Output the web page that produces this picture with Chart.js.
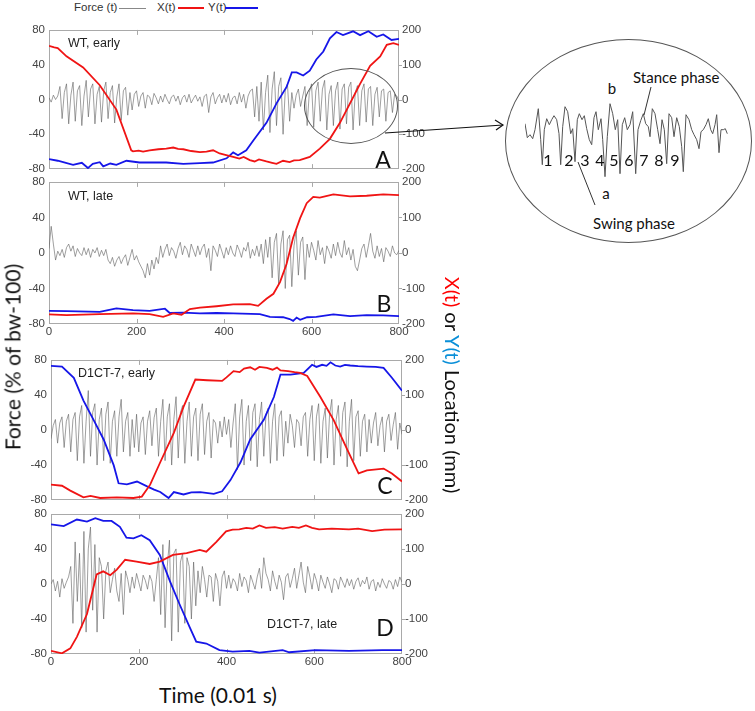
<!DOCTYPE html>
<html lang="en">
<head>
<meta charset="UTF-8"/>
<title>Force and location traces</title>
<script src="https://cdn.jsdelivr.net/npm/chart.js"></script>
<style>
  body { margin:0; background:#fff; width:755px; height:711px; position:relative; overflow:hidden;
         font-family:"Liberation Sans", Arial, sans-serif; color:#222; }
  canvas.panel { position:absolute; left:0; }
  #inset { position:absolute; left:525px; top:100px; }
  .t { position:absolute; white-space:nowrap; line-height:1; transform:translate(0,-50%); }
  .c { position:absolute; white-space:nowrap; line-height:1; transform:translate(-50%,-50%); }
  .cal { font-family:Lato, "Open Sans", sans-serif; color:#111; }
  .leg { font-size:11.5px; color:#333; }
  .legline { position:absolute; height:0; }
  .note { font-size:12.5px; color:#222; }
  .letter { font-size:23px; }
  .ellipse { position:absolute; border:1px solid #555; border-radius:50%; box-sizing:border-box; }
  svg { position:absolute; left:0; top:0; pointer-events:none; }
</style>
</head>
<body>

<script>
  // ---- data ----
  const TIME_TICKS = [0, 200, 400, 600, 800];
  const FORCE_TICKS = [-80, -40, 0, 40, 80];
  const LOC_TICKS = [-200, -100, 0, 100, 200];
  const FORCE_STEP = 5; // force samples every 5 time units (0..800)

  // panel A: WT, early
  const A_FORCE = [2, -3, 5, 0, 4,
    15, -22, 8, 18, -28, 5, 20, -25, 10, 16, -30, 4, 22, -20, 12, 18, -28, 6, 15, -26,
    10, 20, -22, 8, 16, -27, 3, 18, -24, 10, 14, -18,
    8, -12, 6, 10, -8, 4, 8, -10, 5, 3, -6, 7, 2, -5,
    4, -3, 6, 0, -5, 3, 5, -2, 4, -6, 2, 5, -3, 6, -4, 1, 5, -2, 3, -8,
    4, 6, -15, 3, 8, -5, 2, 6, -4, 5, -3, 7, -6, 2, 4, -5, 8, -3, 6, -10, 4, 10,
    12, -20, 15, -25, 20, -35, 8, 28, -38, 12, 32, -30, 15, 25, -40, 10, 18, -25,
    8, -10, 5, 12, -8, 4,
    15, -30, 8, 18, -32, 10, 20, -25, 12, 22, -35, 6, 16, -30, 10, 20, -34, 12, 18, -28,
    14, 20, -35, 8, 16, -30, 10, 18, -26, 12, 15, -30, 6, 14, -20, 10, 12, -25, 8, 10,
    -15, 6, 4, -2];
  const A_X = [[0,154],[12,150],[20,148],[40,124],[78,92],[116,41],[154,-29],[188,-146],[192,-149],
    [205,-147],[215,-150],[230,-146],[250,-143],[268,-141],[284,-138],[295,-142],[307,-143],[325,-148],
    [345,-151],[360,-150],[375,-146],[390,-155],[405,-160],[421,-165],[435,-170],[445,-165],[459,-174],
    [470,-178],[480,-172],[497,-178],[510,-182],[520,-185],[535,-176],[550,-180],[560,-175],[573,-174],
    [596,-165],[619,-141],[642,-113],[665,-67],[688,-11],[711,45],[734,97],[757,124],[772,157],[787,162],[800,157]];
  const A_Y = [[0,-171],[20,-176],[55,-188],[75,-182],[89,-197],[100,-185],[116,-180],[124,-192],[140,-184],
    [154,-188],[177,-176],[207,-181],[268,-181],[307,-185],[345,-183],[375,-181],[406,-169],[421,-152],
    [432,-160],[451,-146],[467,-118],[497,-67],[520,-11],[543,36],[555,78],[566,78],[581,69],[596,83],
    [611,115],[627,138],[642,176],[657,194],[672,185],[695,196],[711,185],[730,196],[749,180],[764,187],
    [783,171],[800,174]];

  // panel B: WT, late
  const B_FORCE = [5, 30, 10, -8, 2, -3, 4, -5, 6, 10, 2,
    8, -4, 5, 0, -3, 6, -2, 5, -5, 4, 0, 6, -4, 3,
    -3, 4, -8, -12, -5, -15, -8, -4, -12, -6, -2, -14, -5, 4, -8, -3,
    -10, -15, -20, -28, -12, -25, -8, -18, -5, -12,
    8, -5, 4, 10, -3, 6, 2, -6, 5, 12, -2, 8, 4, -5, 10, 3, -4, 8, -2, 6,
    10, -5, 5, -20, 8, 3, -4, 10, 2, -6, 6, -2, 8, 0, -4, 9, 3, -5, 6, 2,
    12, -6, 4, -3, 8, -4,
    10, -12, 15, -5, 18, -28, 12, 22, -35, 10, 25, -40, 15, 20, -38, 8, 25, -25, 12, 18, -30, 10,
    -5, 12, 3, -8, 14, -2, 6, -12, 8, 2, -6, 10, -3, 12, 0, -5, 14, -2, 6, -8, 4, -15,
    -20, -8, 5, 10, -5, 8, 22, 2, -6, 8, -4, 5, -10, 6, 2, -4, 8, 0, -2, 3];
  const B_X = [[0,-173],[40,-175],[116,-172],[192,-170],[230,-172],[261,-180],[284,-170],[303,-174],
    [322,-158],[345,-154],[383,-150],[421,-145],[459,-144],[478,-149],[497,-129],[513,-115],[528,-82],
    [543,-31],[558,43],[574,98],[589,140],[604,158],[619,156],[650,165],[688,159],[726,161],[764,165],[800,163]];
  const B_Y = [[0,-163],[40,-164],[116,-166],[154,-156],[192,-161],[230,-163],[265,-157],[276,-169],
    [307,-168],[345,-170],[383,-169],[421,-170],[482,-172],[505,-180],[535,-181],[550,-186],[558,-191],
    [566,-182],[574,-188],[590,-181],[611,-180],[650,-173],[688,-178],[726,-175],[764,-176],[800,-178]];

  // panel C: D1CT-7, early
  const C_FORCE = [-10, 5, 12, -15, 8, 15, -20, 10, 18, -25, 12, 20,
    -35, 15, 28, -38, 10, 45, -30, 20, 30, -40, 12, 25, -35, 18, 32, -38, 10, 22, -30, 15, 35, -25, 10, 20, -30,
    12, -20, 18, -25, 8, 15, -28, 10, 22, -18, 14, 25, -30, 10,
    35, -35, 15, 30, -40, 12, 38, -32, 20, 28, -38, 10, 32, -30, 15, 25, -35, 18, 30, -28, 10, 20, -32, 12, 8, -15,
    10, -8, 15, -5, 12, -20, 8, 30,
    -45, 15, 35, -40, 10, 28, -35, 20, 30, -42, 12, 32, -30, 18, 25, -38, 10, 30, -35, 15, 22, -30,
    10, -15, 18, 5, -20, 12, 8, -18, 15, 20,
    -30, 12, 28, -35, 15, 30, -38, 10, 25, -32, 18, 35, -40, 12, 28, -30, 20, 32, -42, 10, 35, -35, 15, 22, -30, 10, 18, -25,
    12, -15, 8, 20, -18, 5, 15, -25, 10, 18, -12, 6, 20, -22, 8, -5];
  const C_X = [[0,-156],[25,-159],[44,-173],[74,-192],[90,-188],[112,-194],[150,-192],[188,-194],[207,-190],
    [226,-156],[249,-92],[280,-8],[302,66],[329,144],[356,142],[390,140],[400,150],[416,168],[430,165],
    [440,175],[454,179],[465,172],[475,180],[492,177],[505,172],[515,178],[523,170],[540,168],[555,165],
    [568,163],[584,154],[614,94],[644,29],[675,-55],[701,-124],[720,-115],[758,-110],[777,-124],[800,-147]];
  const C_Y = [[0,183],[25,181],[52,149],[74,84],[97,29],[120,-27],[143,-101],[154,-152],[173,-155],[196,-147],
    [219,-161],[235,-170],[249,-177],[268,-194],[280,-177],[302,-184],[320,-178],[340,-177],[371,-182],[390,-175],
    [409,-143],[432,-92],[454,-27],[485,29],[508,94],[523,158],[546,158],[576,163],[595,186],[605,180],
    [618,186],[628,183],[637,193],[648,184],[659,181],[670,186],[682,184],[700,182],[720,181],[740,180],
    [758,177],[777,149],[800,112]];

  // panel D: D1CT-7, late
  const D_FORCE = [0, 5, -8, 3, -15, 6, -5, 2, 8,
    20, -45, 48, -20, 35, -50, 60, -55, 40, 65, -30, 45, -55, 30, 20, -40,
    15, 25, -10, 5, 18, -8, -20, 12, -35, 15, 5, -10,
    8, -5, 12, 2, -8, 10, 4, -6, 10, 3, -20, 5,
    30, -35, 45, -50, 20, 50, -65, 35, 40, -55, 25, 35, -45, 30, 20, -40, 25, -25,
    15, -10, 20, 5, -15, 10, 8, -20, 12, 3, -25, 8, 15, -5,
    10, -5, 6, 2, -8, 12, -3, 8, 4, -10,
    10, 2, -6, 8, 18, -5, 30, 12, 5, -8,
    15, 3, -6, 10, 2, -18, 8, 12, -4, 6,
    18, -5, 10, 25, 2, -10, 20, 8, -6, 12,
    4, -8, 10, 2, -5, 8, 0, -10, 6, 4,
    -6, 8, 2, -4, 6, -2, 5, -6, 3, 7,
    -3, 4, 0, 8, -6, 3, 5, -8, 2, -4,
    6, 0, -5, 4, 2, -6, 5, -3, 8, 2];
  const D_X = [[0,-191],[25,-198],[44,-184],[59,-151],[82,-86],[104,27],[119,36],[135,25],[150,41],[169,69],
    [195,64],[225,57],[248,64],[278,83],[309,88],[339,97],[354,92],[377,120],[399,150],[414,155],[429,156],
    [445,160],[460,158],[475,167],[490,160],[510,162],[528,158],[550,163],[565,160],[581,167],[595,160],
    [611,156],[640,158],[679,156],[700,158],[732,151],[760,155],[800,156]];
  const D_Y = [[0,170],[29,165],[59,184],[82,178],[101,188],[119,180],[138,180],[157,163],[172,132],[188,130],
    [206,139],[225,125],[248,83],[271,8],[293,-58],[316,-123],[331,-165],[354,-170],[384,-189],[414,-193],
    [452,-191],[475,-196],[528,-189],[543,-195],[603,-189],[679,-191],[755,-189],[800,-189]];

  // magnified stretch of panel A force (inset)
  const INSET_T = [0, 2.3, 5, 7.7, 10, 13.3, 15.7, 17.3, 19.3, 21.7, 24.3, 26.7, 29, 31.7, 34, 35.7, 37.7, 40,
    42.7, 45.7, 47.7, 50, 52.3, 54.3, 57, 59.3, 61.7, 64.3, 66.7, 69, 71, 73.3, 76, 77.7, 80, 82.3, 85, 87.7,
    90.3, 92.7, 95, 97.3, 99.7, 102.3, 105, 107.7, 110.7, 113, 115.7, 118.3, 120.7, 123.3, 125, 127.3, 130,
    132.7, 135, 137, 139.3, 141.7, 144, 146.7, 149, 151.7, 154.3, 156.7, 158.3, 161, 164, 166.7, 169, 171.7,
    174, 176, 178.3, 181, 183.3, 185.7, 187.7, 190, 191.7, 194, 196, 198.3, 200.3, 202.3];
  const INSET_F = [3, -11, -8, -12, -3, 18, -13, -38, -3, 8, 2, 7, 11, 7, -7, -38, 0, 20,
    15, -7, -2, -35, 7, 13, 7, 11, -2, -13, -18, 9, 15, -3, 8, -13, -50, -10, 23, 13,
    -3, 7, -47, 2, 9, -3, 2, 15, -47, -3, 6, 13, 3, 0, -10, 18, 13,
    -3, -17, 7, -3, -37, 13, 9, -10, 9, 0, -20, -45, 12, 7, -3, -8, -13,
    -22, -5, -3, 2, 8, -3, -7, 2, 12, -26, -3, -3, -2, -7];

  const RED = '#f01414';
  const BLUE = '#1616e8';
  const GRAY = 'rgba(95,95,95,0.8)';
  const FRAME = '#a9a9a9';
  const TICK_FONT = { family: '"Liberation Sans Narrow", "Liberation Sans", Arial, sans-serif', size: 11.5 };
</script>

<!-- legend -->
<div class="t leg" style="left:74px;top:8px">Force (t)</div>
<div class="legline" style="left:119px;top:8px;width:27px;border-top:1px solid #888"></div>
<div class="t leg" style="left:157px;top:8px">X(t)</div>
<div class="legline" style="left:178px;top:7px;width:26px;border-top:2px solid #f01414"></div>
<div class="t leg" style="left:208px;top:8px">Y(t)</div>
<div class="legline" style="left:225px;top:7px;width:33px;border-top:2.5px solid #1616e8"></div>

<div id="charts"></div>

<!-- panel notes -->
<div class="t note" style="left:68px;top:43px">WT, early</div>
<div class="t note" style="left:68px;top:196px">WT, late</div>
<div class="t note" style="left:78px;top:373px">D1CT-7, early</div>
<div class="t note" style="left:267px;top:624px">D1CT-7, late</div>
<div class="c cal letter" style="left:383px;top:159px">A</div>
<div class="c cal letter" style="left:384px;top:303px">B</div>
<div class="c cal letter" style="left:385px;top:485px">C</div>
<div class="c cal letter" style="left:385px;top:627px">D</div>

<!-- axis titles -->
<div class="c cal" style="left:12px;top:357px;font-size:21px;transform:translate(-50%,-50%) rotate(-90deg)">Force (% of bw-100)</div>
<div class="c cal" style="left:453px;top:385px;font-size:20px;transform:translate(-50%,-50%) rotate(90deg)"><span style="color:#ff0000">X(t)</span> or <span style="color:#0a8fd8">Y(t)</span> Location (mm)</div>
<div class="c cal" style="left:218px;top:694px;font-size:21px">Time (0.01 s)</div>

<!-- magnified inset -->
<div class="ellipse" style="left:304px;top:68px;width:94px;height:76px"></div>
<div class="ellipse" style="left:505px;top:39px;width:247px;height:204px"></div>
<canvas id="inset" width="205" height="80"></canvas>
<div class="t cal" style="left:633px;top:77px;font-size:15px">Stance phase</div>
<div class="c cal" style="left:612px;top:88px;font-size:15px">b</div>
<div class="c cal" style="left:606px;top:193px;font-size:15px">a</div>
<div class="t cal" style="left:593px;top:223px;font-size:15px">Swing phase</div>
<div class="c cal" style="left:548px;top:160px;font-size:16px">1</div>
<div class="c cal" style="left:569px;top:160px;font-size:16px">2</div>
<div class="c cal" style="left:585px;top:160px;font-size:16px">3</div>
<div class="c cal" style="left:600px;top:160px;font-size:16px">4</div>
<div class="c cal" style="left:614px;top:160px;font-size:16px">5</div>
<div class="c cal" style="left:629px;top:160px;font-size:16px">6</div>
<div class="c cal" style="left:644px;top:160px;font-size:16px">7</div>
<div class="c cal" style="left:659px;top:160px;font-size:16px">8</div>
<div class="c cal" style="left:675px;top:160px;font-size:16px">9</div>

<svg width="755" height="711">
  <line x1="385" y1="133" x2="503" y2="125" stroke="#111" stroke-width="1.2"/>
  <polyline points="495,120 503,125 496,130" fill="none" stroke="#111" stroke-width="1.2"/>
  <line x1="651" y1="87" x2="644" y2="115" stroke="#333" stroke-width="1"/>
  <line x1="595" y1="205" x2="578" y2="162" stroke="#333" stroke-width="1"/>
</svg>

<script>
  const frame = {
    id: 'frame',
    beforeDatasetsDraw(chart) {
      const { ctx, chartArea: a, scales } = chart;
      ctx.save();
      ctx.strokeStyle = FRAME;
      ctx.lineWidth = 1;
      ctx.strokeRect(Math.round(a.left) + 0.5, Math.round(a.top) + 0.5, Math.round(a.width) - 1, Math.round(a.height) - 1);
      ctx.beginPath();
      TIME_TICKS.slice(1, -1).forEach(v => {
        const px = Math.round(scales.x.getPixelForValue(v)) + 0.5;
        ctx.moveTo(px, a.top); ctx.lineTo(px, a.top + 5);
        ctx.moveTo(px, a.bottom); ctx.lineTo(px, a.bottom - 5);
      });
      LOC_TICKS.slice(1, -1).forEach(v => {
        const py = Math.round(scales.y2.getPixelForValue(v)) + 0.5;
        ctx.moveTo(a.right, py); ctx.lineTo(a.right + 3, py);
      });
      ctx.stroke();
      ctx.restore();
    }
  };

  const W = 440;
  const PANELS = [
    { force: A_FORCE, x: A_X, y: A_Y, left: 49, right: 399, top: 28, bottom: 171, showX: false },
    { force: B_FORCE, x: B_X, y: B_Y, left: 49, right: 399, top: 180, bottom: 324, showX: true },
    { force: C_FORCE, x: C_X, y: C_Y, left: 51, right: 402, top: 358, bottom: 502, showX: false },
    { force: D_FORCE, x: D_X, y: D_Y, left: 51, right: 402, top: 512, bottom: 654, showX: true }
  ];

  const tickCfg = { color: '#444', font: TICK_FONT };

  PANELS.forEach(p => {
    const padTop = 9, padBottom = p.showX ? 20 : 9;
    const cv = document.createElement('canvas');
    cv.className = 'panel';
    cv.width = W;
    cv.height = p.bottom - p.top + padTop + padBottom;
    cv.style.top = (p.top - padTop) + 'px';
    document.getElementById('charts').appendChild(cv);

    new Chart(cv, {
      type: 'line',
      data: {
        datasets: [
          { data: p.x.map(([t, v]) => ({ x: t, y: v })), yAxisID: 'y2', borderColor: RED, borderWidth: 1.8 },
          { data: p.y.map(([t, v]) => ({ x: t, y: v })), yAxisID: 'y2', borderColor: BLUE, borderWidth: 1.8 },
          { data: p.force.map((v, i) => ({ x: i * FORCE_STEP, y: v })), yAxisID: 'y', borderColor: GRAY, borderWidth: 0.75 }
        ]
      },
      options: {
        responsive: false,
        animation: false,
        devicePixelRatio: 1,
        elements: { point: { radius: 0 }, line: { tension: 0 } },
        plugins: { legend: { display: false }, tooltip: { enabled: false } },
        layout: { padding: { top: padTop, left: 0, right: 0, bottom: 0 } },
        scales: {
          x: {
            type: 'linear', min: TIME_TICKS[0], max: TIME_TICKS[TIME_TICKS.length - 1],
            afterBuildTicks: s => { s.ticks = TIME_TICKS.map(v => ({ value: v })); },
            ticks: { ...tickCfg, display: p.showX, padding: 1, maxRotation: 0, autoSkip: false },
            grid: { display: false, drawTicks: false, tickLength: 0 },
            border: { display: false },
            afterFit: s => { s.height = padBottom; }
          },
          y: {
            position: 'left', min: FORCE_TICKS[0], max: FORCE_TICKS[FORCE_TICKS.length - 1],
            afterBuildTicks: s => { s.ticks = FORCE_TICKS.map(v => ({ value: v })); },
            ticks: { ...tickCfg, padding: 4 },
            grid: { display: false, drawTicks: false, tickLength: 0 },
            border: { display: false },
            afterFit: s => { s.width = p.left; }
          },
          y2: {
            position: 'right', min: LOC_TICKS[0], max: LOC_TICKS[LOC_TICKS.length - 1],
            afterBuildTicks: s => { s.ticks = LOC_TICKS.map(v => ({ value: v })); },
            ticks: { ...tickCfg, padding: 3 },
            grid: { display: false, drawTicks: false, tickLength: 0 },
            border: { display: false },
            afterFit: s => { s.width = W - p.right; }
          }
        }
      },
      plugins: [frame]
    });
  });

  // inset trace: 1 canvas px per unit
  new Chart(document.getElementById('inset'), {
    type: 'line',
    data: { datasets: [{ data: INSET_T.map((t, i) => ({ x: t, y: INSET_F[i] })), borderColor: '#555', borderWidth: 1 }] },
    options: {
      responsive: false, animation: false, devicePixelRatio: 1,
      elements: { point: { radius: 0 }, line: { tension: 0 } },
      plugins: { legend: { display: false }, tooltip: { enabled: false } },
      layout: { padding: 0 },
      scales: {
        x: { type: 'linear', display: false, min: 0, max: 205 },
        y: { display: false, min: -53.3, max: 26.7 }
      }
    }
  });
</script>
</body>
</html>
